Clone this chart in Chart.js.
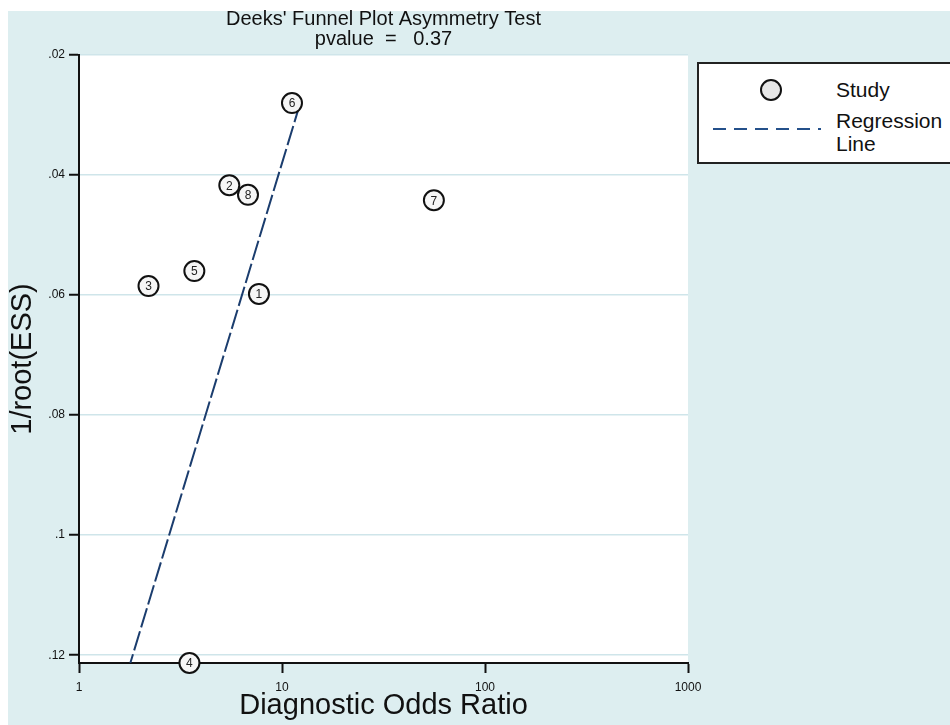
<!DOCTYPE html>
<html>
<head>
<meta charset="utf-8">
<script src="https://cdn.jsdelivr.net/npm/chart.js@4.4.1/dist/chart.umd.min.js"></script>
<style>
  html, body { margin: 0; padding: 0; background: #fff; }
  #wrap { position: relative; width: 950px; height: 725px; overflow: hidden; }
  #bg { position: absolute; left: 8px; top: 11px; right: 0; bottom: 0; background: #ddeef0; }
  #chart { position: absolute; left: 0; top: 0; }
  #legend {
    position: absolute; left: 697px; top: 62px; width: 270px; height: 98px;
    background: #fff; border: 2px solid #222;
    font-family: "Liberation Sans", Arial, sans-serif; font-size: 21px; color: #111;
  }
  #legend svg { position: absolute; }
  #legend span { position: absolute; left: 137px; line-height: 23px; }
</style>
</head>
<body>
<div id="wrap">
  <div id="bg"></div>
  <canvas id="chart" width="950" height="725"></canvas>
  <div id="legend">
    <svg style="left:59px;top:13px" width="26" height="26"><circle cx="13" cy="13" r="10" fill="#e6e6e6" stroke="#111" stroke-width="2"/></svg>
    <span style="top:14px">Study</span>
    <svg style="left:14px;top:62px" width="110" height="6"><line x1="0" y1="3" x2="108" y2="3" stroke="#24508a" stroke-width="2" stroke-dasharray="13 8"/></svg>
    <span style="top:45px">Regression<br>Line</span>
  </div>
</div>
<script>
// studies: diagnostic odds ratio vs 1/sqrt(effective sample size)
const studyLabels = ["1", "2", "3", "4", "5", "6", "7", "8"];
const dor = [7.7, 5.5, 2.2, 3.5, 3.7, 11.2, 56, 6.8];
const invRootEss = [0.0598, 0.0417, 0.0585, 0.1213, 0.056, 0.028, 0.0442, 0.0433];

// fitted regression line end points
const regX = [12.3, 1.79];
const regY = [0.028, 0.1213];

const xTicks = [1, 10, 100, 1000];
const yTicks = [0.02, 0.04, 0.06, 0.08, 0.1, 0.12];

const font = "'Liberation Sans', Arial, sans-serif";

const plotBg = {
  id: "plotBg",
  beforeDraw(chart) {
    const { ctx, chartArea: a } = chart;
    ctx.save();
    ctx.fillStyle = "#fff";
    ctx.fillRect(a.left, a.top, a.right - a.left, a.bottom - a.top);
    ctx.restore();
  }
};

const pointNumbers = {
  id: "pointNumbers",
  afterDatasetsDraw(chart) {
    const ctx = chart.ctx;
    const meta = chart.getDatasetMeta(0);
    ctx.save();
    ctx.font = "12px " + font;
    ctx.fillStyle = "#222";
    ctx.textAlign = "center";
    ctx.textBaseline = "middle";
    meta.data.forEach((pt, i) => {
      ctx.fillText(studyLabels[i], pt.x, pt.y + 1);
    });
    ctx.restore();
  }
};

new Chart(document.getElementById("chart"), {
  type: "scatter",
  data: {
    datasets: [
      {
        label: "Study",
        data: dor.map((v, i) => ({ x: v, y: invRootEss[i] })),
        pointRadius: 10,
        pointHoverRadius: 10,
        pointBorderWidth: 2,
        pointBorderColor: "#111",
        pointBackgroundColor: "#f6f6f6",
        clip: false
      },
      {
        label: "Regression Line",
        type: "line",
        data: regX.map((v, i) => ({ x: v, y: regY[i] })),
        borderColor: "#1b3d6e",
        borderWidth: 2,
        borderDash: [20, 4],
        pointRadius: 0,
        fill: false
      }
    ]
  },
  options: {
    responsive: false,
    animation: false,
    layout: { padding: { left: 0, right: 262, top: 0, bottom: 0 } },
    plugins: {
      legend: { display: false },
      tooltip: { enabled: false },
      title: {
        display: true,
        fullSize: false,
        text: ["Deeks' Funnel Plot Asymmetry Test", "pvalue  =   0.37"],
        color: "#111",
        font: { family: font, size: 20, weight: "normal", lineHeight: 1.0 },
        padding: { top: 9, bottom: 6 }
      }
    },
    scales: {
      x: {
        type: "logarithmic",
        min: 1,
        max: 1000,
        afterBuildTicks(scale) { scale.ticks = xTicks.map(v => ({ value: v })); },
        afterFit(scale) { scale.height = 62; },
        ticks: {
          color: "#111",
          font: { family: font, size: 12 },
          padding: 7,
          maxRotation: 0,
          callback: v => String(v)
        },
        grid: { drawOnChartArea: false, tickLength: 10, tickColor: "#111", tickWidth: 2 },
        border: { display: true, color: "#111", width: 2 },
        title: {
          display: true,
          text: "Diagnostic Odds Ratio",
          color: "#111",
          font: { family: font, size: 29 },
          padding: { top: 0, bottom: 2 }
        }
      },
      y: {
        reverse: true,
        min: 0.02,
        max: 0.1213,
        afterBuildTicks(scale) { scale.ticks = yTicks.map(v => ({ value: v })); },
        afterFit(scale) { scale.width = 79; },
        ticks: {
          color: "#111",
          font: { family: font, size: 12 },
          padding: 4,
          callback: v => v.toFixed(2).replace(/^0/, "").replace(/0$/, "")
        },
        grid: { color: "#cfe5ea", lineWidth: 1.5, tickLength: 10, tickColor: "#111", tickWidth: 2 },
        border: { display: true, color: "#111", width: 2 },
        title: {
          display: true,
          text: "1/root(ESS)",
          color: "#111",
          font: { family: font, size: 29 },
          padding: { top: 6, bottom: 0 }
        }
      }
    }
  },
  plugins: [plotBg, pointNumbers]
});
</script>
</body>
</html>
